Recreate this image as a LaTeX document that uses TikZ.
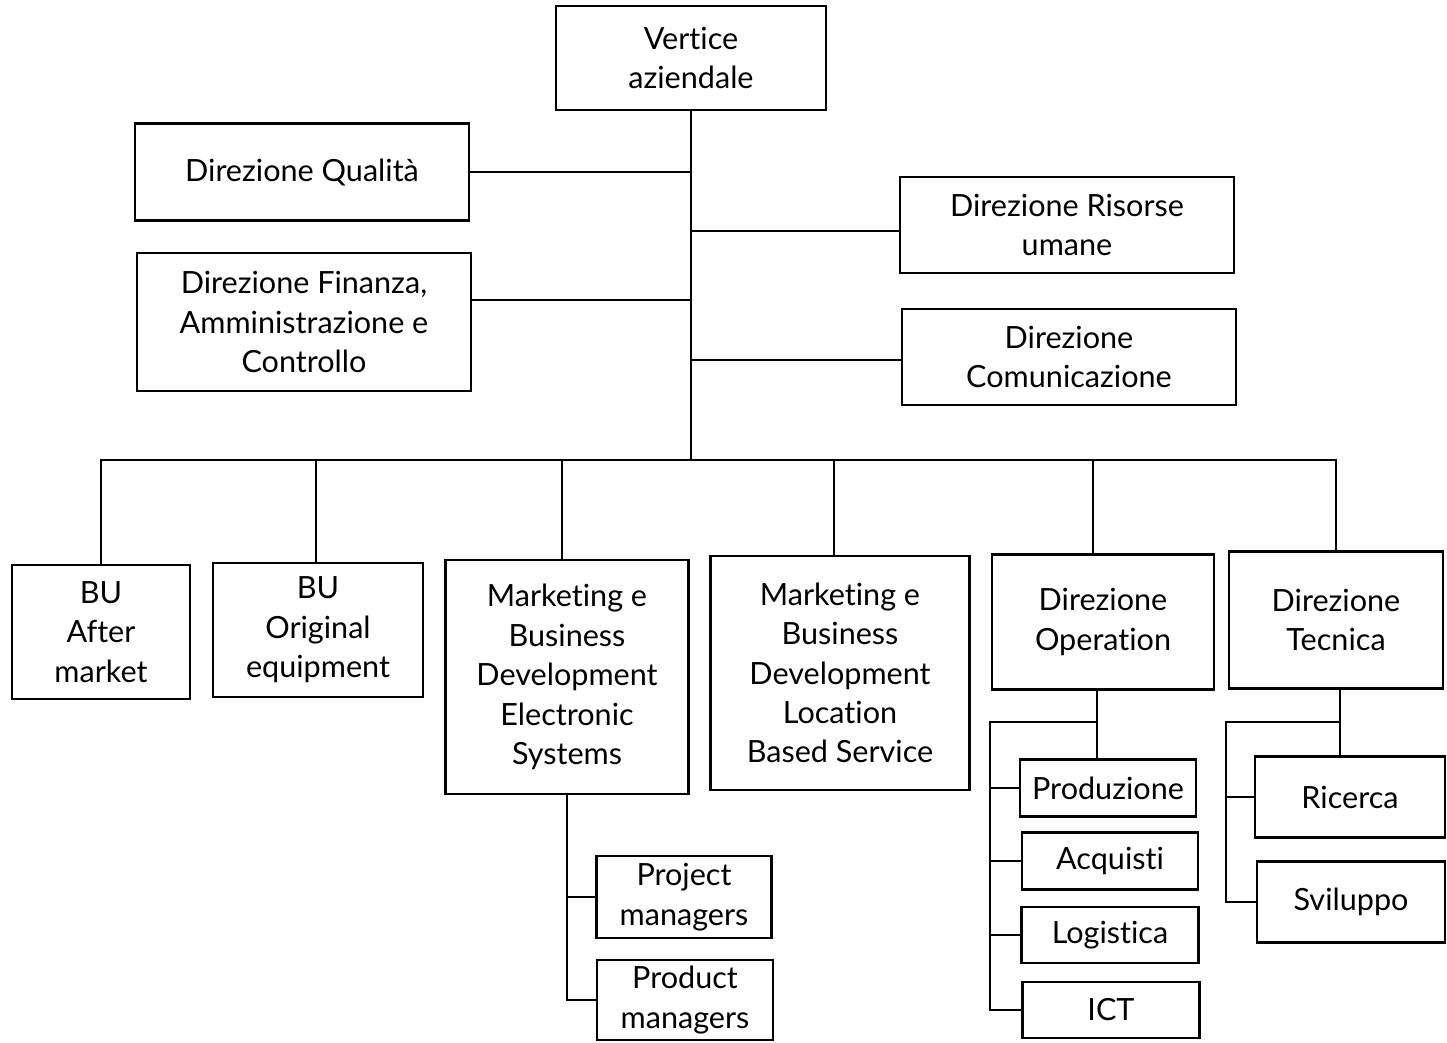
\documentclass[tikz,border=0pt]{standalone}
\usepackage{fontspec}
\setmainfont[Ligatures=NoCommon]{Lato}
\usepackage{tikz}

\begin{document}
\begin{tikzpicture}[y=-1cm, line width=0.8pt,
        box/.style={draw, align=center, inner sep=0pt, font=\fontsize{8.7}{11.2}\selectfont}]
        \useasboundingbox (0, 0) rectangle (14.47, 10.42);

        \node[box, minimum width=2.70cm, minimum height=1.04cm] (vert) at (6.91, 0.58) {Vertice\\aziendale};
        \node[box, minimum width=3.34cm, minimum height=0.97cm] (qual) at (3.02, 1.72) {Direzione Qualità};
        \node[box, minimum width=3.34cm, minimum height=1.38cm] (fin) at (3.04, 3.22) {Direzione Finanza,\\Amministrazione e\\Controllo};
        \node[box, minimum width=3.34cm, minimum height=0.96cm] (ris) at (10.67, 2.25) {Direzione Risorse\\umane};
        \node[box, minimum width=3.34cm, minimum height=0.96cm] (com) at (10.69, 3.57) {Direzione\\Comunicazione};

        \node[box, minimum width=1.78cm, minimum height=1.34cm] (bu1) at (1.01, 6.32) {BU\\After\\market};
        \node[box, minimum width=2.10cm, minimum height=1.34cm] (bu2) at (3.18, 6.30) {BU\\Original\\equipment};
        \node[box, minimum width=2.43cm, minimum height=2.34cm] (mk1) at (5.67, 6.77) {Marketing e\\Business\\Development\\Electronic\\Systems};
        \node[box, minimum width=2.59cm, minimum height=2.34cm] (mk2) at (8.40, 6.73) {Marketing e\\Business\\Development\\Location\\Based Service};
        \node[box, minimum width=2.22cm, minimum height=1.35cm] (op) at (11.03, 6.22) {Direzione\\Operation};
        \node[box, minimum width=2.14cm, minimum height=1.37cm] (tec) at (13.36, 6.20) {Direzione\\Tecnica};

        \node[box, minimum width=1.75cm, minimum height=0.82cm] (pm1) at (6.84, 8.97) {Project\\managers};
        \node[box, minimum width=1.76cm, minimum height=0.80cm] (pm2) at (6.85, 10.00) {Product\\managers};

        \node[box, minimum width=1.76cm, minimum height=0.57cm] (prod) at (11.08, 7.88) {Produzione};
        \node[box, minimum width=1.76cm, minimum height=0.57cm] (acq) at (11.10, 8.61) {Acquisti};
        \node[box, minimum width=1.77cm, minimum height=0.56cm] (log) at (11.10, 9.35) {Logistica};
        \node[box, minimum width=1.77cm, minimum height=0.56cm] (ict) at (11.11, 10.10) {ICT};

        \node[box, minimum width=1.90cm, minimum height=0.81cm] (ric) at (13.50, 7.97) {Ricerca};
        \node[box, minimum width=1.88cm, minimum height=0.81cm] (svi) at (13.51, 9.02) {Sviluppo};

        \coordinate (bus) at (6.91, 4.60);
        \coordinate (opj) at (10.97, 7.22);
        \coordinate (opl) at (9.90, 7.22);
        \coordinate (tcj) at (13.40, 7.22);
        \coordinate (tcl) at (12.26, 7.22);

        % staff
        \draw (vert) -- (bus);
        \draw (qual) -- (qual -| bus);
        \draw ([yshift=2.2mm]fin.east) -- ([yshift=2.2mm]fin.east -| bus);
        \draw ([yshift=-0.6mm]ris.west) -- ([yshift=-0.6mm]ris.west -| bus);
        \draw ([yshift=-0.3mm]com.west) -- ([yshift=-0.3mm]com.west -| bus);

        % line
        \draw (bu1.north) |- (bus) -| (tec.north);
        \draw ([xshift=-0.2mm]bu2.north) -- ([xshift=-0.2mm]bu2.north |- bus);
        \draw ([xshift=-0.5mm]mk1.north) -- ([xshift=-0.5mm]mk1.north |- bus);
        \draw ([xshift=-0.6mm]mk2.north) -- ([xshift=-0.6mm]mk2.north |- bus);
        \draw ([xshift=-1mm]op.north) -- ([xshift=-1mm]op.north |- bus);

        \draw (mk1.south) |- (pm1.west);
        \draw (mk1.south) |- (pm2.west);

        \draw (opj |- op.south) -- (opj |- prod.north);
        \draw (opj) -- (opl) |- (ict.west);
        \draw (opl |- prod.west) -- (prod.west);
        \draw (opl |- acq.west) -- (acq.west);
        \draw (opl |- log.west) -- (log.west);

        \draw (tcj |- tec.south) -- (tcj |- ric.north);
        \draw (tcj) -- (tcl) |- (svi.west);
        \draw (tcl |- ric.west) -- (ric.west);
    \end{tikzpicture}
\end{document}
